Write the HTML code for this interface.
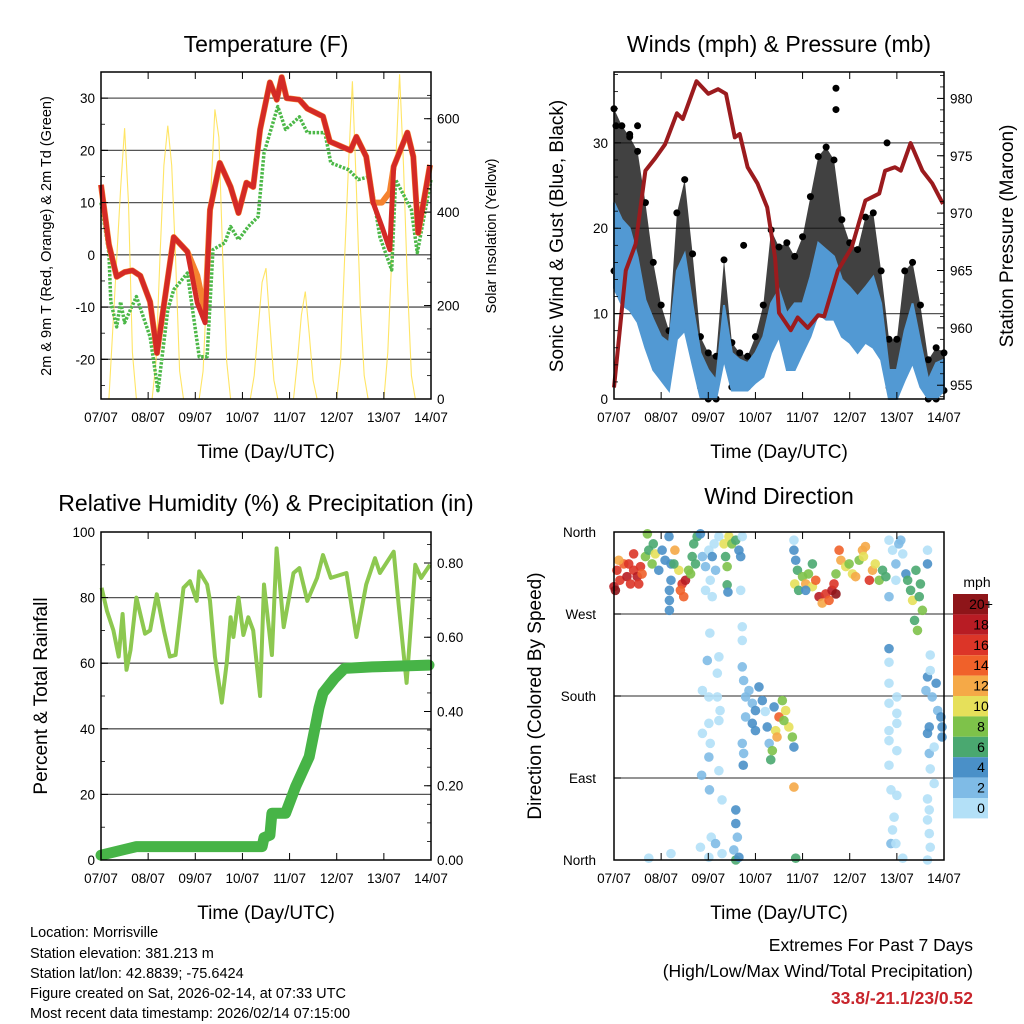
<!DOCTYPE html>
<html><head><meta charset="utf-8"><style>
html,body{margin:0;padding:0;background:#fff;}
svg{display:block;font-family:"Liberation Sans",sans-serif;}
</style></head><body>
<svg id="c" width="1024" height="1024" viewBox="0 0 1024 1024" xmlns="http://www.w3.org/2000/svg">
<text x="266" y="52" font-size="23" text-anchor="middle">Temperature (F)</text>
<text x="779" y="52" font-size="23" text-anchor="middle">Winds (mph) &amp; Pressure (mb)</text>
<text x="266" y="511" font-size="23" text-anchor="middle">Relative Humidity (%) &amp; Precipitation (in)</text>
<text x="779" y="504" font-size="23" text-anchor="middle">Wind Direction</text>
<text x="266" y="458" font-size="19" text-anchor="middle">Time (Day/UTC)</text>
<text x="779" y="458" font-size="19" text-anchor="middle">Time (Day/UTC)</text>
<text x="266" y="919" font-size="19" text-anchor="middle">Time (Day/UTC)</text>
<text x="779" y="919" font-size="19" text-anchor="middle">Time (Day/UTC)</text>
<text transform="translate(51,236) rotate(-90)" font-size="14.5" text-anchor="middle">2m &amp; 9m T (Red, Orange) &amp; 2m Td (Green)</text>
<text transform="translate(496,236) rotate(-90)" font-size="14.5" text-anchor="middle">Solar Insolation (Yellow)</text>
<text transform="translate(563,236) rotate(-90)" font-size="19" text-anchor="middle">Sonic Wind &amp; Gust (Blue, Black)</text>
<text transform="translate(1013,236) rotate(-90)" font-size="19" text-anchor="middle">Station Pressure (Maroon)</text>
<text transform="translate(47,696) rotate(-90)" font-size="19" text-anchor="middle">Percent &amp; Total Rainfall</text>
<text transform="translate(541,696) rotate(-90)" font-size="19" text-anchor="middle">Direction (Colored By Speed)</text>
<g font-size="14.5">
<text x="30" y="937">Location: Morrisville</text>
<text x="30" y="958">Station elevation: 381.213 m</text>
<text x="30" y="978">Station lat/lon: 42.8839; -75.6424</text>
<text x="30" y="998">Figure created on Sat, 2026-02-14, at 07:33 UTC</text>
<text x="30" y="1018">Most recent data timestamp: 2026/02/14 07:15:00</text>
</g>
<g font-size="17.5" text-anchor="end">
<text x="973" y="951">Extremes For Past 7 Days</text>
<text x="973" y="977">(High/Low/Max Wind/Total Precipitation)</text>
<text x="973" y="1004" font-weight="bold" fill="#c8252c">33.8/-21.1/23/0.52</text>
</g>
<text x="977" y="587" font-size="14" text-anchor="middle">mph</text>
</svg>
<script>
// ---- data ----
const dayLabels = ["07/07","08/07","09/07","10/07","11/07","12/07","13/07","14/07"];
const tHours = [0,4,8,12,16,20,25,28.5,37,44,49,53,55.5,60.5,66,70,74,77.5,81,86,89.5,92,94.5,101,105,113,116.5,127,130,135,138.5,143,147,149,156,159,161.5,167.5];
const tVals = [13.4,2,-4.2,-3.3,-3,-4,-9,-18.8,3.4,0.6,-9.2,-13,8.6,17.6,13,8,13.8,13,24,33,29.7,34,30,29.7,28,26.5,21.7,20,22.6,18.8,10,5.4,1,16.9,23.4,18.8,4.2,17.2];
const t9Vals = [13.4,2,-4.2,-3.3,-3,-4,-9,-18.8,3.4,0.6,-4,-11,8.6,17.6,13,8,13.8,13,24,33,29.7,34,30,29.7,28,26.5,21.7,20,22.6,18.8,10,10,12,16.9,23.4,18.8,4.2,17.2];
const tdHours = [0,4,5,8,10,12,18,25,29,34,37,44,50,54,57,63,66,70,75,80,83,86,90,94,101,105,114,117,126,131,137,142,148,150,158,161,168];
const tdVals = [10,0.4,-9,-13.8,-9,-13,-8,-15.7,-26,-10.5,-6.7,-3.5,-19.5,-19.5,1,2.3,5.4,2.9,5.4,7.3,19.5,23.3,28.4,24,26.4,23.4,23.4,17.6,16.3,14.4,15,3.4,-2.9,14.4,8.6,0.4,14.4];
const solarVals = [0,0,0,150,300,450,580,420,100,0,0,0,0,0,80,300,500,585,500,300,60,0,0,0,0,0,60,250,450,620,560,300,80,0,0,0,0,0,0,50,150,250,280,160,40,0,0,0,0,0,80,180,230,140,40,0,0,0,0,0,0,80,300,500,680,450,200,50,0,0,0,0,0,100,300,500,695,500,250,50,0,0,0,0,0];
const pHours = [0,6,11,16,21,26,32,35,42,48,53,57,61.5,64,68,73,78,82,84,90,93.5,98.6,104,107,114,121,128,135,138,143,146,151,157,162,167.5];
const pVals = [954.8,965,967.3,973.7,974.8,976,978.7,978.2,981.5,980.4,980.8,980.4,976.6,976.9,974,972.6,970.5,966.1,961.3,959.8,960.9,960,961.1,961,965,967,971.1,971.7,973.7,974,973.7,976.1,973.7,972.6,970.8];
const windHi = [23,21,20,16.6,11.6,9.3,7.3,6.6,15,17,11,5.4,3.4,2.2,11,5.4,4.6,4.2,5.4,7.3,11.2,12.8,10,11.2,11.2,14.3,18.3,17.5,16.7,14,13.1,12,13.1,14.3,11.2,3.4,3.4,8,11.2,6.6,2.2,4.2,4.6];
const windLo = [13,11,10.4,9,6,3.4,2.2,1,7,8,4,0.2,0,0,4.6,1,1,1,1.9,2.6,5.4,7.3,3.4,3.4,5.4,7.3,10,9.3,9.3,7.3,6.6,5.4,6.6,6,4.6,0,0,2.2,4.2,1.4,0,0,1];
const gustHi = [34,32,30.7,29,23,16,11,8,21.8,25.7,17,7.3,5.4,5,16.3,6.6,5.4,5,7.3,11,19.8,17.8,18.3,16.7,19,23.7,28.4,29.5,28,21,18.3,17.5,21.3,21.8,15,7,7,15,16,11,4.6,6,5.4];
const gustLo = [15,14,13,11,8,5.5,4,3.4,9,11,5.5,1.4,0,0,5.5,1.4,1.4,1.4,2.5,4,9,10,7,7,9,11,15,14,13,11,10,8,10,11,7,1.4,1,5.5,6.5,3.4,0,0,1];
const gustOutHours = [113,113,1,8,12,66,139];
const gustOutVals = [36.4,33.9,32,31,32,18,30];
const rhHours = [0.3,3,6.3,9,11,13,15,18,22.4,25,28.4,32,35,38,42,45.3,48.7,50,54,55.5,58,61.5,64,66,67.4,70,72.5,75,77.5,81,83,87,89.4,93,98,101,105,110,113,117,125,130,135,139.5,142,149,151.5,155.6,160,163,167.5];
const rhVals = [83,76,70,62,75,58,64,80,69,70,81,70,62,62.5,83,85,79,88,84,79,62,48,60,74,68,80,68.6,74,70,50,84,62.5,95,71,87.5,89,79,86,93,86,87.5,68,84,92,87.5,94,78,54,90,86,90];
const prHours = [0,18,82,83,86,87,94,99,106,111,113,119,124,138,167];
const prVals = [0.013,0.036,0.036,0.06,0.067,0.126,0.126,0.197,0.278,0.41,0.45,0.49,0.516,0.52,0.525];
const dirHours = [0,1.5,3,5,6.6,8.4,10,10,11.8,13.5,14.3,2.4,7.5,12.6,0.7,16,17.7,19.4,21,22.8,24.5,26,17,20,28,29,29,28.2,28.2,28.2,31,33,34.7,36.4,35.5,33.8,38,30.5,39.8,41.5,40.6,42.3,39,44,45,46.6,48.3,50,51.7,49,46.6,50,53.4,51,56,56.8,57.6,58.5,60,62,63.6,64.5,57.6,58,64.5,65.3,91.6,91.6,92.5,93.4,92,94,96,97.6,99,101,102.7,104.4,106,107.8,109.5,111,112,113,113,114.6,115.5,118,119.7,121.4,123,124.8,126.5,128,127,130,131.6,133,135,136.7,138.4,101,97.6,140,141.8,143.5,145,147,148.6,143.5,140,146,149.5,151,152,153.7,155.4,157,153,154.5,156,159.6,159.6,48.8,47.5,53.4,52.6,45,48.3,52.6,54,48.3,53.4,45,49,48.3,53.4,44.6,48.6,55,49.5,51.7,55,44,29,48.3,65.3,65.3,65.3,66,67,68.7,70.4,72,73.8,75.5,72,70.4,67,65.3,66,65.8,77,78,79,79.8,80.6,82.3,83,84,85.7,87.4,89,90.8,91.6,81.5,86.5,91.6,62,62,62.8,61,62,63.6,17.7,92.5,140,140,140,140,144,144,144,140,140,144,140,141,144,142.6,141.8,141,143.5,147,161,159.6,161,158.8,162,164,164.8,166.4,167,167,160.5,159.6,160.5,163,161,163,159.6,160.5,159.6,160.5,161,159.6];
const dirDeg = [300,318,307,325,311,303,336,318,311,322,314,329,325,303,296,333,340,325,336,318,340,329,358,347,355,325,307,296,285,274,340,318,303,307,289,296,318,325,333,325,347,355,314,358,333,322,340,333,318,307,296,289,355,347,347,333,322,355,347,351,340,333,302,294,296,355,351,340,329,318,303,296,311,303,314,300,307,289,282,292,285,296,303,292,314,340,329,322,325,314,311,329,340,344,333,307,318,325,307,318,311,325,296,351,340,325,347,336,314,307,289,351,307,296,285,318,289,274,263,252,303,340,325,249,219,223,205,186,179,179,164,150,153,139,128,113,98,93,77,66,25,18,7,14,7,3,256,241,212,197,179,186,172,164,190,175,142,150,157,128,117,104,163,146,128,110,120,142,135,157,175,164,146,135,124,168,153,80,55,40,25,11,0,3,2,2,232,217,194,172,179,161,150,142,131,120,104,77,71,47,33,18,18,2,225,201,208,186,179,194,164,157,146,135,146,139,117,124,100,84,67,55,44,29,14,0];
const dirSpd = [18,16,16,14,18,16,16,16,18,16,14,12,16,16,20,8,6,8,10,4,4,4,8,6,4,4,4,4,4,4,12,10,16,18,14,14,8,6,6,6,6,6,8,4,2,2,0,4,2,0,0,0,0,0,10,6,8,10,8,6,4,4,6,4,0,0,0,4,4,6,10,6,8,12,8,10,14,18,12,16,14,18,16,20,8,14,12,10,8,10,12,8,12,12,10,16,12,10,8,6,6,6,4,0,0,2,2,0,4,0,2,2,6,6,10,6,6,8,6,8,6,0,4,0,2,0,0,0,0,0,0,0,0,0,0,2,0,2,2,0,0,2,0,0,0,0,0,0,2,2,2,2,2,4,4,4,4,4,2,2,2,4,0,4,2,6,8,10,12,14,8,10,10,8,4,4,8,12,4,4,2,2,6,4,0,6,4,0,0,0,0,0,0,0,0,0,0,0,0,0,0,2,0,0,0,4,0,2,2,4,2,4,4,4,4,4,2,0,0,0,0,0,0,0,0,0,0,0];
const speedBins = ["20+","18","16","14","12","10","8","6","4","2","0"];
const speedColors = ["#8e1519","#b81c24","#dc3528","#f0612a","#f5a947","#e6e05a","#7ec24a","#4aa870","#4a90c8","#7fbbe6","#b3e0f7"];
const tempTicks = [30,20,10,0,-10,-20];
const solarTicks = [0,200,400,600];
const windTicks = [0,10,20,30];
const presTicks = [955,960,965,970,975,980];
const rhTicks = [0,20,40,60,80,100];
const prTicks = [0,0.2,0.4,0.6,0.8];
const dirTicks = [["North",360],["West",270],["South",180],["East",90],["North",0]];

// ---- helpers ----
const NS = "http://www.w3.org/2000/svg";
const svg = document.getElementById("c");
function mk(tag, attrs, parent) {
  const e = document.createElementNS(NS, tag);
  for (const k in attrs) e.setAttribute(k, attrs[k]);
  (parent || svg).appendChild(e);
  return e;
}
function lin(d0, d1, r0, r1) { return v => r0 + (v - d0) / (d1 - d0) * (r1 - r0); }
const H = 168;
function panel(name, x0, x1, y0, y1) {
  const g = mk("g", {});
  
  
  return {g, x0, x1, y0, y1, x: lin(0, H, x0, x1)};
}
function path(pts) { return pts.map((p, i) => (i ? "L" : "M") + p[0].toFixed(1) + "," + p[1].toFixed(1)).join(""); }
function grid(P, y, nm) {
  const l = mk("line", {x1: P.x0, x2: P.x1, y1: y, y2: y, stroke: "#555", "stroke-width": 1.3}, P.g);
  
  
}
function frame(P, nm) {
  const r = mk("rect", {x: P.x0, y: P.y0, width: P.x1 - P.x0, height: P.y1 - P.y0, fill: "none", stroke: "#000", "stroke-width": 1.5});
  
  
  for (let d = 0; d < dayLabels.length; d++) {
    const xx = P.x(d * 24);
    const t = mk("line", {x1: xx, x2: xx, y1: P.y1, y2: P.y1 - 7, stroke: "#000", "stroke-width": 1});
    
    
    const t2 = mk("line", {x1: xx, x2: xx, y1: P.y0, y2: P.y0 + 7, stroke: "#000", "stroke-width": 1});
    
    
    const lb = mk("text", {x: xx, y: P.y1 + 23, "font-size": 13.5, "text-anchor": "middle"});
    lb.textContent = dayLabels[d];
    
    
  }
}
function yTicks(P, sc, ticks, side, fmt, minor) {
  const xe = side === "l" ? P.x0 : P.x1, dir = side === "l" ? 1 : -1;
  ticks.forEach(v => {
    const yy = sc(v);
    const t = mk("line", {x1: xe, x2: xe + dir * 7, y1: yy, y2: yy, stroke: "#000", "stroke-width": 1});
    
    
    const lb = mk("text", {x: side === "l" ? xe - 6 : xe + 6, y: yy + 5, "font-size": 13.5, "text-anchor": side === "l" ? "end" : "start"});
    lb.textContent = fmt(v);
    
    
  });
  if (minor) {
    const [a, b, s] = minor;
    for (let v = a; v <= b + 1e-9; v += s) {
      const yy = sc(v);
      if (yy < P.y0 || yy > P.y1) continue;
      const t = mk("line", {x1: xe, x2: xe + dir * 4, y1: yy, y2: yy, stroke: "#000", "stroke-width": 0.8});
      
      
    }
  }
}

// ---- panel 1: temperature ----
const P1 = panel("temperature-plot", 101, 431, 72, 399);
const yT = lin(-27.6, 35, 399, 72), yS = lin(0, 700, 399, 72);
[30,20,10,0,-10,-20].forEach(v => grid(P1, yT(v), "temp-gridline"));
const sol = mk("path", {d: path(solarVals.map((v, i) => [P1.x(i * 2), yS(v)])), fill: "none", stroke: "#ffe04a", "stroke-width": 1.1, opacity: 0.85}, P1.g);


const td = mk("path", {d: path(tdHours.map((h, i) => [P1.x(h), yT(tdVals[i])])), fill: "none", stroke: "#4cb848", "stroke-width": 3.5, "stroke-dasharray": "2.5,1.5", "stroke-linejoin": "round"}, P1.g);


const t9 = mk("path", {d: path(tHours.map((h, i) => [P1.x(h), yT(t9Vals[i])])), fill: "none", stroke: "#f5822f", "stroke-width": 6, "stroke-linejoin": "round"}, P1.g);


const t2 = mk("path", {d: path(tHours.map((h, i) => [P1.x(h), yT(tVals[i])])), fill: "none", stroke: "#d42a26", "stroke-width": 5, "stroke-linejoin": "round"}, P1.g);


frame(P1, "temp-frame");
yTicks(P1, yT, tempTicks, "l", v => String(v), [-25, 35, 5]);
yTicks(P1, yS, solarTicks, "r", v => String(v), [0, 700, 50]);

// ---- panel 2: winds ----
const P2 = panel("winds-plot", 614, 944, 72, 399);
const yW = lin(0, 38.3, 399, 72), yP = lin(953.8, 982.3, 399, 72);
[10,20,30].forEach(v => grid(P2, yW(v), "wind-gridline"));
const gHours = gustHi.map((v, i) => i * 4);
const gb = mk("path", {d: path(gHours.map((h, i) => [P2.x(h), yW(gustHi[i])]).concat(gHours.slice().reverse().map((h, j) => [P2.x(h), yW(gustLo[gustLo.length - 1 - j])]))) + "Z", fill: "#111", opacity: 0.8}, P2.g);


gHours.forEach((h, i) => {
  const c = mk("circle", {cx: P2.x(h), cy: yW(gustHi[i]), r: 3.5, fill: "#000"}, P2.g);
  
  
  const c2 = mk("circle", {cx: P2.x(h), cy: yW(gustLo[i]), r: 3.5, fill: "#000"}, P2.g);
  
  
});
gustOutHours.forEach((h, i) => {
  const c = mk("circle", {cx: P2.x(h), cy: yW(gustOutVals[i]), r: 3.5, fill: "#000"}, P2.g);
  
  
});
const wb = mk("path", {d: path(gHours.map((h, i) => [P2.x(h), yW(windHi[i])]).concat(gHours.slice().reverse().map((h, j) => [P2.x(h), yW(windLo[windLo.length - 1 - j])]))) + "Z", fill: "#5299d3", stroke: "#5299d3", "stroke-width": 2}, P2.g);


const pl = mk("path", {d: path(pHours.map((h, i) => [P2.x(h), yP(pVals[i])])), fill: "none", stroke: "#9b1b1e", "stroke-width": 4, "stroke-linejoin": "round"}, P2.g);


frame(P2, "wind-frame");
yTicks(P2, yW, windTicks, "l", v => String(v), [0, 38, 2]);
yTicks(P2, yP, presTicks, "r", v => String(v), [954, 982, 1]);

// ---- panel 3: RH & precip ----
const P3 = panel("humidity-plot", 101, 431, 532, 860);
const yR = lin(0, 100, 860, 532), yPr = lin(0, 0.8835, 860, 532);
[20,40,60,80].forEach(v => grid(P3, yR(v), "rh-gridline"));
const rl = mk("path", {d: path(rhHours.map((h, i) => [P3.x(h), yR(rhVals[i])])), fill: "none", stroke: "#8dc850", "stroke-width": 4, "stroke-linejoin": "round"}, P3.g);


const prl = mk("path", {d: path(prHours.map((h, i) => [P3.x(h), yPr(prVals[i])])), fill: "none", stroke: "#47b447", "stroke-width": 11, "stroke-linejoin": "round", "stroke-linecap": "round"}, P3.g);


frame(P3, "rh-frame");
yTicks(P3, yR, rhTicks, "l", v => String(v), [0, 100, 10]);
yTicks(P3, yPr, prTicks, "r", v => v.toFixed(2), [0, 0.88, 0.05]);

// ---- panel 4: wind direction ----
const P4 = panel("direction-plot", 614, 944, 532, 860);
const yD = lin(0, 360, 860, 532);
[270,180,90].forEach(v => {
  const l = mk("line", {x1: P4.x0, x2: 953, y1: yD(v), y2: yD(v), stroke: "#555", "stroke-width": 1.3}, P4.g);
  
  
});
function spdColor(s) { const idx = Math.min(10, Math.floor(s / 2)); return speedColors[10 - idx]; }
dirHours.forEach((h, i) => {
  const c = mk("circle", {cx: P4.x(h), cy: yD(dirDeg[i]), r: 4.8, fill: spdColor(dirSpd[i]), opacity: 0.9}, P4.g);
  
  
});
frame(P4, "dir-frame");
dirTicks.forEach(t => {
  const yy = yD(t[1]);
  const lb = mk("text", {x: 596, y: yy + 5, "font-size": 13.5, "text-anchor": "end"});
  lb.textContent = t[0];
  
  
  const tk = mk("line", {x1: 614, x2: 621, y1: yy, y2: yy, stroke: "#000", "stroke-width": 1});
  
  
});
speedBins.forEach((b, i) => {
  const r = mk("rect", {x: 953, y: 594 + i * 20.4, width: 35, height: 20.4, fill: speedColors[i]});
  
  
  const lb = mk("text", {x: 981, y: 594 + i * 20.4 + 15, "font-size": 14, "text-anchor": "middle"});
  lb.textContent = b;
  
  
});
</script>
</body></html>
